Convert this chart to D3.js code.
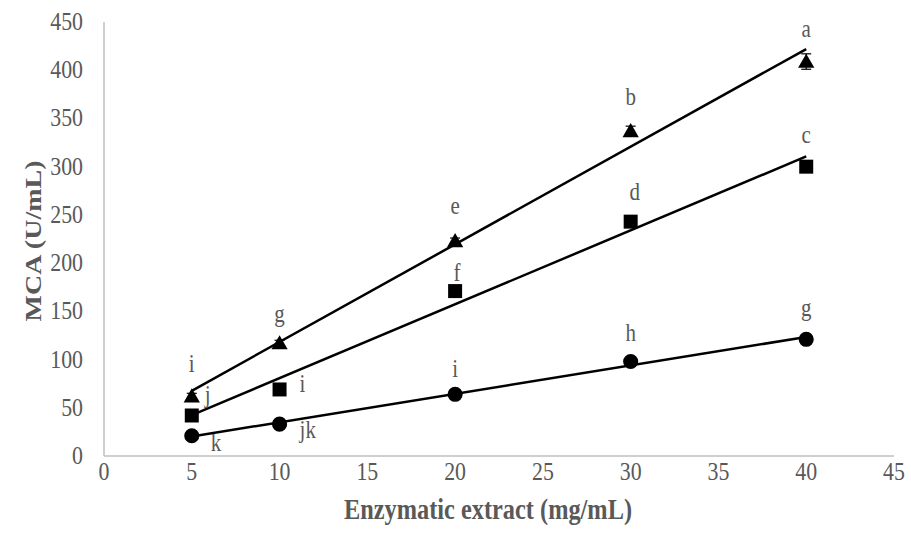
<!doctype html>
<html>
<head>
  <meta charset="UTF-8">
  <script src="https://d3js.org/d3.v7.min.js"></script>
  <style>
    body { margin: 0; background: #fff; }
  </style>
</head>
<body>
<svg width="911" height="539"></svg>
<script>
// data
var extract = [5, 10, 20, 30, 40];
var triangleVals = [62, 117, 223, 337, 409];
var squareVals = [42, 69, 171, 243, 300];
var circleVals = [21, 33, 64, 98, 121];
var triangleErr = [3, 3, 3, 5, 8];
var squareErr = [3, 3, 3, 3, 3];
var circleErr = [2, 2, 2, 2, 2];
var triangleLetters = ["i", "g", "e", "b", "a"];
var squareLetters = ["j", "i", "f", "d", "c"];
var circleLetters = ["k", "jk", "i", "h", "g"];
var xTicks = [0, 5, 10, 15, 20, 25, 30, 35, 40, 45];
var yTicks = [0, 50, 100, 150, 200, 250, 300, 350, 400, 450];

var FONT = "Liberation Serif";
var SX = 0.84;   // the source text is narrow, squeeze it horizontally
var svg = d3.select("svg");
var x = d3.scaleLinear().domain([0, 45]).range([104, 894]);
var y = d3.scaleLinear().domain([0, 450]).range([456, 22]);

var grey = "#595959";

function label(sel, px, py, anchor, size) {
  return sel.append("text")
    .attr("transform", "translate(" + px + "," + py + ") scale(" + SX + ",1)")
    .attr("text-anchor", anchor).attr("font-size", size)
    .attr("font-family", FONT).attr("fill", grey);
}

// axes
svg.append("line").attr("x1", x(0)).attr("x2", x(0)).attr("y1", y(450)).attr("y2", y(0))
  .attr("stroke", "#bfbfbf").attr("stroke-width", 1.5);
svg.append("line").attr("x1", x(0)).attr("x2", x(45)).attr("y1", y(0)).attr("y2", y(0))
  .attr("stroke", "#bfbfbf").attr("stroke-width", 1.5);

yTicks.forEach(function(t) {
  label(svg, 83, y(t) + 8, "end", 26).text(t);
});
xTicks.forEach(function(t) {
  label(svg, x(t), 480, "middle", 26).text(t);
});

label(svg, 488, 519, "middle", 29).attr("font-weight", "bold")
  .text("Enzymatic extract (mg/mL)");

svg.append("text")
  .attr("transform", "translate(41,241) scale(" + SX + ",1) rotate(-90)")
  .attr("text-anchor", "middle").attr("font-size", 28).attr("font-weight", "bold")
  .attr("font-family", FONT).attr("fill", grey).text("MCA (U/mL)");

// least squares trendline
function fit(xs, ys) {
  var mx = d3.mean(xs), my = d3.mean(ys);
  var sxy = d3.sum(xs, (v, i) => (v - mx) * (ys[i] - my));
  var sxx = d3.sum(xs, v => (v - mx) * (v - mx));
  var b = sxy / sxx;
  return { b: b, a: my - b * mx };
}

// label placement: [dx, baseline dy, anchor] per point
var placeTri = [[0, -24, "middle"], [0, -21, "middle"], [0, -27, "middle"], [0, -26, "middle"], [0, -25, "middle"]];
var placeSq = [[13, -12, "start"], [20, 3, "start"], [2, -10, "middle"], [4, -22, "middle"], [0, -24, "middle"]];
var placeCi = [[19, 15, "start"], [20, 14, "start"], [0, -17, "middle"], [0, -20, "middle"], [0, -23, "middle"]];

var series = [
  { vals: triangleVals, err: triangleErr, letters: triangleLetters, sym: d3.symbolTriangle, size: 115, place: placeTri, dy: 1.5 },
  { vals: squareVals, err: squareErr, letters: squareLetters, sym: d3.symbolSquare, size: 196, place: placeSq, dy: 0 },
  { vals: circleVals, err: circleErr, letters: circleLetters, sym: d3.symbolCircle, size: 180, place: placeCi, dy: 0 }
];

var line = d3.line().x(d => x(d[0])).y(d => y(d[1]));

series.forEach(function(s) {
  var f = fit(extract, s.vals);
  var x0 = d3.min(extract), x1 = d3.max(extract);
  svg.append("path")
    .attr("d", line([[x0, f.a + f.b * x0], [x1, f.a + f.b * x1]]))
    .attr("stroke", "#000").attr("stroke-width", 2.5).attr("fill", "none");

  var g = svg.append("g");
  extract.forEach(function(xv, i) {
    var cx = x(xv), cy = y(s.vals[i]);
    var e = s.err[i];
    g.append("line").attr("x1", cx).attr("x2", cx)
      .attr("y1", y(s.vals[i] + e)).attr("y2", y(s.vals[i] - e))
      .attr("stroke", "#000").attr("stroke-width", 1.2);
    [s.vals[i] + e, s.vals[i] - e].forEach(function(v) {
      g.append("line").attr("x1", cx - 5).attr("x2", cx + 5)
        .attr("y1", y(v)).attr("y2", y(v))
        .attr("stroke", "#000").attr("stroke-width", 1.2);
    });
    g.append("path")
      .attr("d", d3.symbol().type(s.sym).size(s.size)())
      .attr("transform", "translate(" + cx + "," + (cy + s.dy) + ")")
      .attr("fill", "#000");
    var p = s.place[i];
    label(svg, cx + p[0], cy + p[1], p[2], 25).text(s.letters[i]);
  });
});
</script>
</body>
</html>
